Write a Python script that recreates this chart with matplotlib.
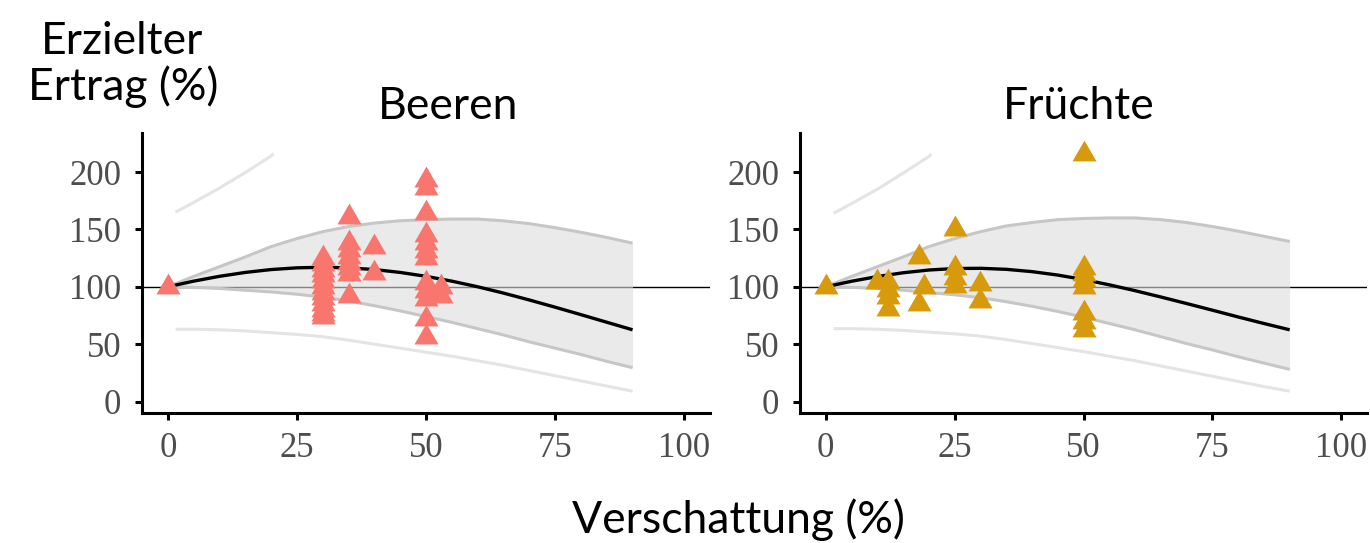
import numpy as np
import matplotlib
matplotlib.use("Agg")
import matplotlib.pyplot as plt

# ---------------- data ----------------
panels = ["Beeren", "Früchte"]
point_colors = ["#F8766D", "#D69A0C"]

# observed points, Beeren
beeren_x = [0,
            30, 30, 30, 30, 30, 30, 30, 30, 30, 30, 30, 30,
            35, 35, 35, 35, 35, 35, 35, 35,
            40, 40,
            50, 50, 50, 50, 50, 50, 50, 50, 50, 50, 50, 50,
            53, 53]
beeren_y = [100,
            125, 120, 115, 110, 105, 100, 95, 90, 85, 80, 76, 74,
            161, 138, 132, 126, 121, 116, 111, 92,
            135, 112,
            193, 186, 164, 145, 138, 131, 125, 103, 96, 89, 72, 56,
            100, 92]

# observed points, Früchte
fruechte_x = [0, 10, 12, 12, 12, 12, 18, 18, 19,
              25, 25, 25, 25, 30, 30,
              50, 50, 50, 50, 50, 50, 50, 50]
fruechte_y = [100, 104, 104, 97, 91, 81, 126, 85, 100,
              150, 116, 108, 101, 102, 88,
              216, 116, 111, 106, 100, 77, 69, 62]

# fitted curve and bands (sampled every 5 % of shading)
curve_x = [0, 5, 10, 15, 20, 25, 30, 35, 40, 45, 50, 55, 60, 65, 70, 75, 80, 85, 90]

beeren_fit = [100, 104.9, 109.1, 112.5, 115.0, 116.5, 117.0, 116.5, 115.0, 112.5,
              109.1, 104.9, 100.0, 94.5, 88.5, 82.2, 75.7, 69.1, 62.5]
beeren_upper = [100, 109, 117.5, 126, 135, 142, 148, 152.5, 155.5, 157.5,
                158.5, 159, 159, 157.5, 155, 151.5, 147.5, 143, 138]
beeren_lower = [100, 99.5, 98.5, 97, 95.5, 93.5, 91, 87.5, 83.5, 79,
                74, 69, 63.5, 58, 52, 46.5, 41, 35, 29.5]

fruechte_fit = [100, 104.8, 108.9, 112.2, 114.6, 115.9, 116.1, 115.2, 113.2, 110.2,
                106.3, 101.7, 96.6, 91.1, 85.4, 79.6, 73.7, 68.0, 62.5]
fruechte_upper = [100, 109, 117.5, 126, 135, 142, 148, 153, 156, 158.5,
                  159.5, 160, 160, 158.5, 156, 152.5, 148.5, 144, 139.5]
fruechte_lower = [100, 99.5, 98.5, 97, 95, 93, 90.5, 87, 83, 78.5,
                  73.5, 68, 62.5, 56.5, 50.5, 45, 39, 33.5, 28]

# outer (light) interval lines
outer_up_x = [1.5, 5, 10, 15, 20, 20.5]
beeren_outer_up = [165, 173.5, 186, 199.5, 214, 216]
fruechte_outer_up = [164, 172.5, 185, 199, 213.5, 215.5]

outer_lo_x = [1.5, 5, 10, 15, 20, 25, 30, 35, 40, 45, 50, 55, 60, 65, 70, 75, 80, 85, 90]
beeren_outer_lo = [63, 63, 62.5, 61.5, 60, 58.5, 56.5, 53.5, 50, 46.5,
                   43, 39.5, 35.5, 31.5, 27, 22.5, 18, 13.5, 9]
fruechte_outer_lo = [63.5, 63.5, 63, 62, 60.5, 59, 57, 54, 50.5, 47,
                     43.5, 39.5, 35.5, 31, 26.5, 22, 17.5, 13, 9]

x_ticks = [0, 25, 50, 75, 100]
y_ticks = [0, 50, 100, 150, 200]
reference_level = 100

y_label_lines = ["Erzielter", "Ertrag (%)"]
x_label = "Verschattung (%)"

# ---------------- drawing ----------------
SANS = ["Lato", "DejaVu Sans"]
SERIF = ["Liberation Serif", "DejaVu Serif"]
TXT = dict(fontsize=32, family=SANS, fontweight="normal", color="black")

fig = plt.figure(figsize=(13.70, 5.43), dpi=100)
fig.patch.set_facecolor("white")

tri = [(0, 0.5774), (-0.5, -0.2887), (0.5, -0.2887)]

ax_rects = [[142 / 1370, 1 - 413 / 543, (710 - 142) / 1370, (413 - 133) / 543],
            [800 / 1370, 1 - 413 / 543, (1367 - 800) / 1370, (413 - 133) / 543]]

panel_data = [
    (beeren_x, beeren_y, beeren_fit, beeren_upper, beeren_lower, beeren_outer_up, beeren_outer_lo),
    (fruechte_x, fruechte_y, fruechte_fit, fruechte_upper, fruechte_lower, fruechte_outer_up, fruechte_outer_lo),
]

for i, rect in enumerate(ax_rects):
    ax = fig.add_axes(rect)
    px, py, fit, up, lo, oup, olo = panel_data[i]

    ax.axhline(reference_level, color="black", lw=1.0, zorder=1)
    ax.fill_between(curve_x, lo, up, color="#DCDCDC", alpha=0.60, lw=0, zorder=2)
    ax.plot(curve_x, up, color="#C6C6C6", lw=2.2, zorder=3, solid_capstyle="butt")
    ax.plot(curve_x, lo, color="#C6C6C6", lw=2.2, zorder=3, solid_capstyle="butt")
    ax.plot(outer_up_x, oup, color="#E4E4E4", lw=2.2, zorder=3, solid_capstyle="butt")
    ax.plot(outer_lo_x, olo, color="#E4E4E4", lw=2.2, zorder=3, solid_capstyle="butt")
    ax.plot(curve_x, fit, color="black", lw=2.4, zorder=4, solid_capstyle="butt")
    ax.plot(px, py, linestyle="none", marker=tri, markersize=20,
            markeredgewidth=0, color=point_colors[i], zorder=5)

    ax.set_xlim(-5, 105)
    ax.set_ylim(-10, 234)
    ax.set_xticks(x_ticks)
    ax.set_yticks(y_ticks)
    ax.set_xticklabels([str(t) for t in x_ticks], fontfamily=SERIF)
    ax.set_yticklabels([str(t) for t in y_ticks], fontfamily=SERIF)
    for s in ["top", "right"]:
        ax.spines[s].set_visible(False)
    for s in ["left", "bottom"]:
        ax.spines[s].set_linewidth(2.2)
        ax.spines[s].set_color("black")
    ax.tick_params(axis="both", direction="out", length=5, width=2.2, color="black",
                   labelsize=25, labelcolor="#4D4D4D")
    ax.tick_params(axis="y", pad=10)
    ax.tick_params(axis="x", pad=9)
    ax.set_facecolor("white")

# titles and labels
fig.text(448 / 1370, 1 - 119 / 543, panels[0], ha="center", va="baseline", **TXT)
fig.text(1079 / 1370, 1 - 119 / 543, panels[1], ha="center", va="baseline", **TXT)
fig.text(122 / 1370, 1 - 54 / 543, y_label_lines[0], ha="center", va="baseline", **TXT)
fig.text(123 / 1370, 1 - 100 / 543, y_label_lines[1], ha="center", va="baseline", **TXT)
fig.text(572 / 1370, 1 - 533 / 543, x_label, ha="left", va="baseline", **TXT)

fig.savefig("out.png", dpi=100, facecolor="white")
